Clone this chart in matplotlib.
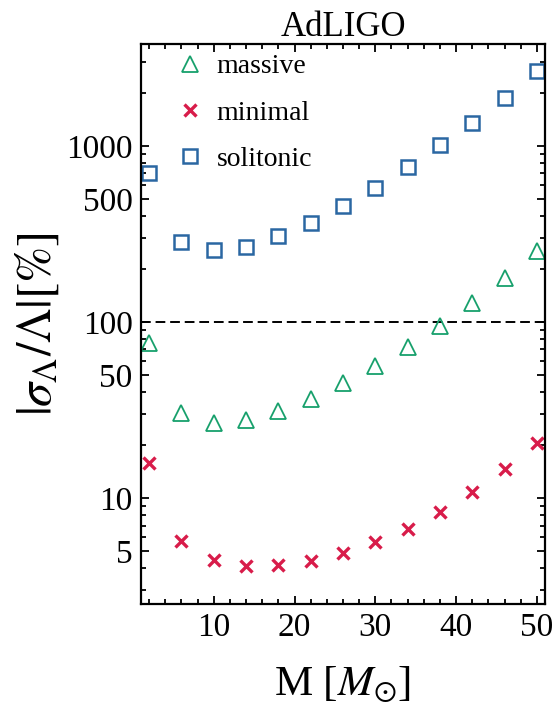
import matplotlib.pyplot as plt
import numpy as np
from matplotlib.ticker import FixedLocator, MultipleLocator, LogLocator, NullFormatter

plt.rcParams['font.family'] = 'Liberation Serif'
plt.rcParams['mathtext.fontset'] = 'stix'

# relative error on Lambda for each model, in percent
mass = [2, 6, 10, 14, 18, 22, 26, 30, 34, 38, 42, 46, 50]
massive = [76, 30.5, 26.7, 27.8, 31.1, 36.6, 45.1, 56.1, 72, 95, 129, 178, 252]
minimal = [15.8, 5.75, 4.47, 4.13, 4.18, 4.43, 4.91, 5.68, 6.67, 8.36, 10.8, 14.7, 20.5]
solitonic = [699, 285, 255, 267, 307, 366, 453, 577, 754, 1010, 1355, 1875, 2660]

y_ticks = [5, 10, 50, 100, 500, 1000]
x_ticks = [10, 20, 30, 40, 50]

fig = plt.figure(figsize=(5.55, 7.11), dpi=100)
ax = fig.add_axes([0.254, 0.150, 0.728, 0.788])

ax.axhline(100, color='black', lw=1.4, ls=(0, (5, 2.5)), zorder=1)

ax.plot(mass, massive, ls='none', marker='^', ms=12, mfc='none', mec='#17a06c', mew=1.3,
        label='massive')
ax.plot(mass, minimal, ls='none', marker='x', ms=9, mec='#d81c4a', mew=2.4, label='minimal')
ax.plot(mass, solitonic, ls='none', marker='s', ms=10, mfc='none', mec='#2a67a2', mew=1.8,
        label='solitonic')

ax.set_yscale('log')
ax.set_xlim(1, 51)
ax.set_ylim(2.5, 3780)

ax.xaxis.set_major_locator(FixedLocator(x_ticks))
ax.xaxis.set_minor_locator(MultipleLocator(2))
ax.yaxis.set_major_locator(FixedLocator(y_ticks))
ax.yaxis.set_minor_locator(LogLocator(base=10, subs=np.arange(1, 10), numticks=20))
ax.yaxis.set_minor_formatter(NullFormatter())
ax.set_yticklabels([str(t) for t in y_ticks])
ax.set_xticklabels([str(t) for t in x_ticks])

ax.tick_params(which='both', direction='in', top=True, right=True, labelsize=24, width=1.3)
ax.tick_params(which='major', length=6, pad=6)
ax.tick_params(which='minor', length=3.5)
for s in ax.spines.values():
    s.set_linewidth(1.6)

ax.set_title('AdLIGO', fontsize=25, pad=6)
ax.set_xlabel(r'M [$M_{\odot}$]', fontsize=31, labelpad=15)
ax.set_ylabel(r'$|\sigma_\Lambda/\Lambda|[\%]$', fontsize=35, labelpad=4)

ax.legend(loc='upper left', bbox_to_anchor=(0.04, 1.017), frameon=False, fontsize=20,
          handlelength=1.0, handletextpad=0.45, labelspacing=0.75, borderaxespad=0.3)

fig.savefig('out.png', dpi=100)
